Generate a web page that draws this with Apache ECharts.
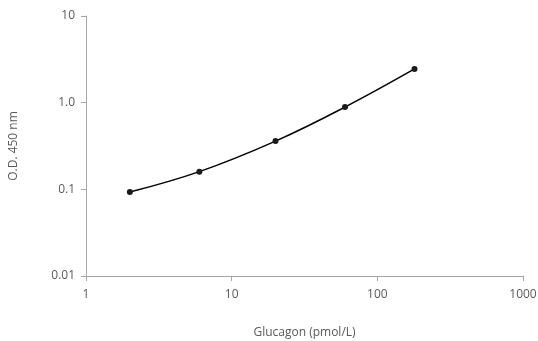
<!DOCTYPE html>
<html>
<head>
<meta charset="utf-8">
<script src="https://cdn.jsdelivr.net/npm/echarts@6/dist/echarts.min.js"></script>
<style>
    html, body { margin: 0; padding: 0; background: #fff; }
    #chart { width: 538px; height: 341px; }
</style>
</head>
<body>
<div id="chart"></div>
<script>
    // 标准曲线数据
    var concentration = [2, 6, 20, 60, 180];
    var opticalDensity = [0.093, 0.16, 0.36, 0.89, 2.45];
    var yTickLabels = { 0.01: '0.01', 0.1: '0.1', 1: '1.0', 10: '10' };

    var points = concentration.map(function (c, i) {
        return [c, opticalDensity[i]];
    });

    var myChart = echarts.init(document.getElementById('chart'));
    var axisColor = '#a6a6a6';
    var textColor = '#595959';
    var font = '"Open Sans", sans-serif';

    myChart.setOption({
        animation: false,
        grid: { left: 86, right: 15, top: 16, bottom: 65, outerBoundsMode: 'none', containLabel: false },
        xAxis: {
            type: 'log',
            logBase: 10,
            min: 1,
            max: 1000,
            name: 'Glucagon (pmol/L)',
            nameLocation: 'middle',
            nameGap: 51,
            nameTextStyle: { color: textColor, fontSize: 12, fontFamily: font },
            axisLine: { lineStyle: { color: axisColor, width: 1 } },
            axisTick: { lineStyle: { color: axisColor }, length: 5 },
            splitLine: { show: false },
            minorTick: { show: false },
            axisLabel: {
                color: textColor, fontSize: 12, fontFamily: font, margin: 13,
                formatter: function (v) { return String(Math.round(v)); }
            }
        },
        yAxis: {
            type: 'log',
            logBase: 10,
            min: 0.01,
            max: 10,
            name: 'O.D. 450 nm',
            nameLocation: 'middle',
            nameGap: 66,
            nameRotate: 90,
            nameTextStyle: { color: textColor, fontSize: 12, fontFamily: font },
            axisLine: { show: true, lineStyle: { color: axisColor, width: 1 } },
            axisTick: { show: true, lineStyle: { color: axisColor }, length: 5 },
            splitLine: { show: false },
            axisLabel: {
                color: textColor, fontSize: 12, fontFamily: font, margin: 11,
                formatter: function (v) {
                    var key = parseFloat(v.toPrecision(3));
                    return yTickLabels[key] !== undefined ? yTickLabels[key] : '';
                }
            }
        },
        series: [{
            type: 'line',
            data: points,
            smooth: 0.4,
            symbol: 'circle',
            symbolSize: 6,
            lineStyle: { color: '#000', width: 1.5 },
            itemStyle: { color: '#1a1a1a' }
        }]
    });
</script>
</body>
</html>
